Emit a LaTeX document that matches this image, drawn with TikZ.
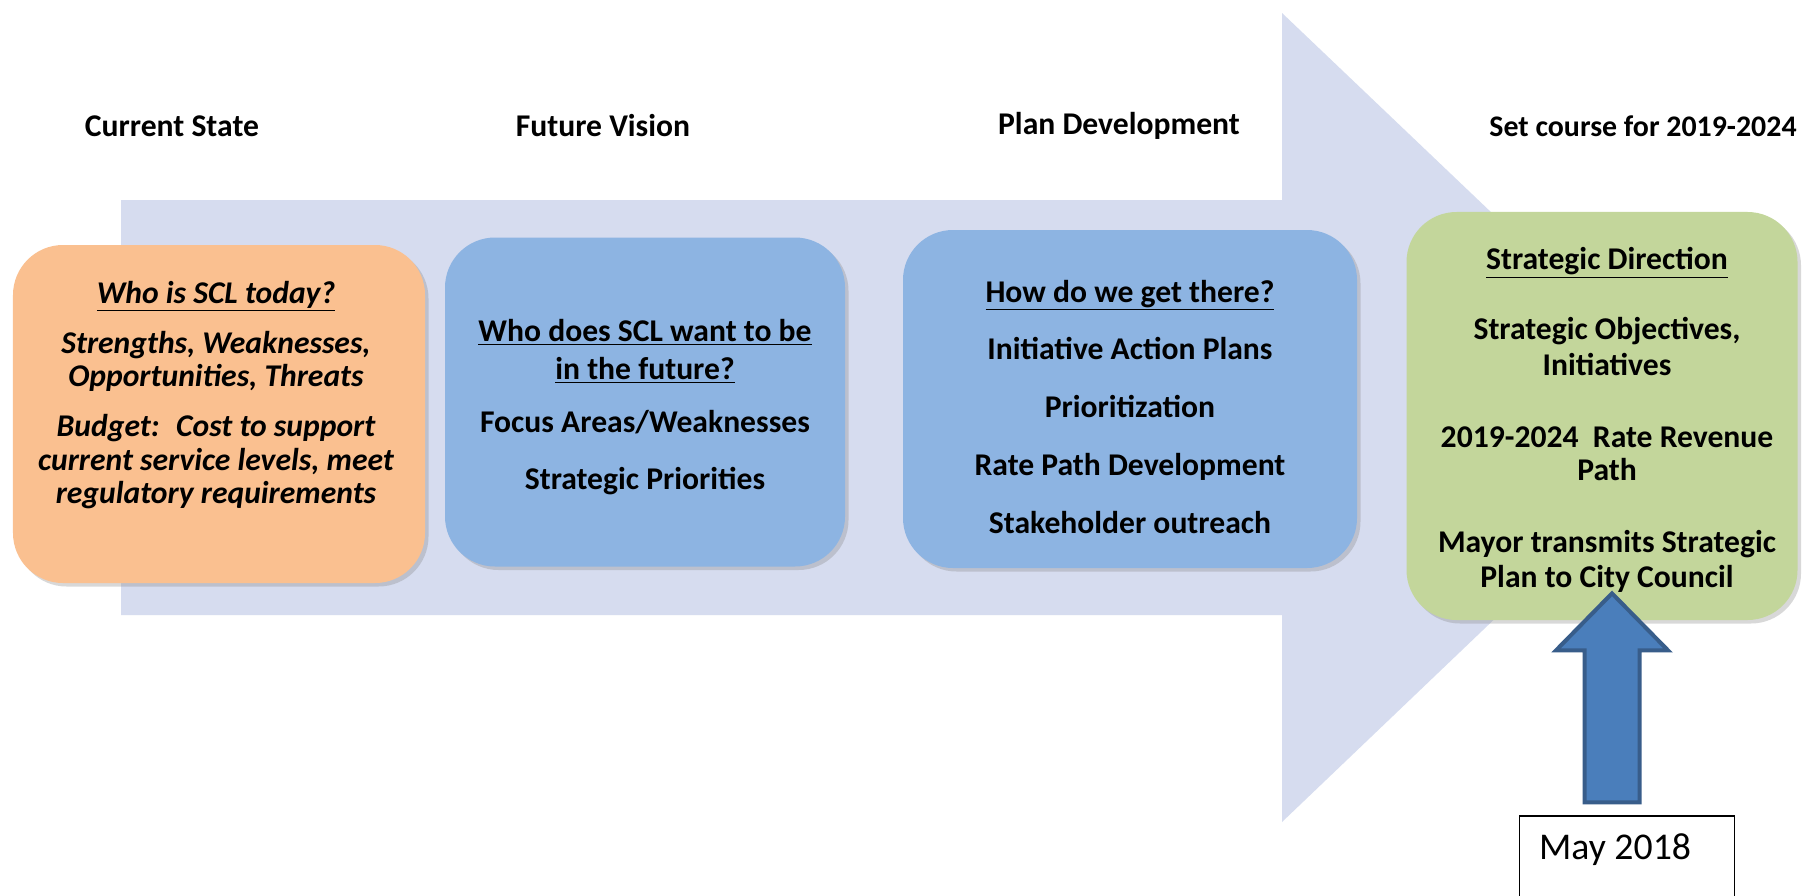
\documentclass[tikz,border=0pt]{standalone}
\usepackage{fontspec}
\setmainfont{Carlito}
\usetikzlibrary{positioning}
\usetikzlibrary{shadows, calc}

\definecolor{peach}{RGB}{250,192,144}
\definecolor{skyblue}{RGB}{141,180,226}
\definecolor{sage}{RGB}{195,214,155}
\definecolor{lavender}{RGB}{214,220,239}
\definecolor{steel}{RGB}{74,126,187}
\definecolor{steeldark}{RGB}{56,93,138}

\begin{document}
\begin{tikzpicture}[x=0.2mm,y=-0.2mm]
\tikzstyle{stage box}=[rectangle,rounded corners=10mm,inner sep=0,
  drop shadow={shadow xshift=0.7mm,shadow yshift=-0.7mm,opacity=0.3}]
\tikzstyle{stage text}=[align=center,inner sep=0,font=\fontsize{18}{19}\selectfont\bfseries]
\tikzstyle{stage title}=[inner sep=0,font=\fontsize{18}{19}\selectfont\bfseries]
\tikzset{
  up arrow/.style = {fill=steel, draw=steeldark, line width=0.8mm, line join=miter},
  date box/.style = {rectangle, draw=black, line width=0.3mm, fill=white,
    minimum width=43mm, minimum height=24mm}
}

    \useasboundingbox (0,0) rectangle (1802,896);
    \fill[white] (0,0) rectangle (1802,896);

    % the long timeline arrow behind the stages
    \fill[lavender] (121,200) -- (1282,200) -- (1282,13) -- (1706,417)
        -- (1282,822) -- (1282,615) -- (121,615) -- cycle;

    %%%%%%%%%%%%%%%%%%%%%%%%%%
    \node[stage title] (t1) at (172,126) {Current State};
    \node[stage title] (t2) at (603,126) {Future Vision};
    \node[stage title] (t3) at (1119,126) {Plan Development};
    \node[stage title,anchor=east,font=\fontsize{17}{19}\selectfont\bfseries] (t4) at (1797,126) {Set course for 2019-2024};

    \node[stage box,fill=peach,minimum width=82.4mm,minimum height=67.6mm] (now) at (219,414) {};
    \node[stage box,fill=skyblue,minimum width=80mm,minimum height=65.8mm] (vision) at (645,402) {};
    \node[stage box,fill=skyblue,minimum width=90.8mm,minimum height=67.6mm] (plan) at (1130,399) {};
    \node[stage box,fill=sage,minimum width=78.2mm,minimum height=81.6mm] (course) at (1602,416) {};

    \node[stage text,font=\fontsize{18}{19}\selectfont\bfseries\itshape] (nowtxt) at (216,395)
        {\underline{Who is SCL today?}\\[9.5pt]
         Strengths, Weaknesses,\\ Opportunities, Threats\\[9.5pt]
         Budget:~ Cost to support\\ current service levels, meet\\ regulatory requirements};
    \node[stage text] (visiontxt) at (645,407)
        {\underline{Who does SCL want to be}\\[3pt] \underline{in the future?}\\[11pt]
         Focus Areas/Weaknesses\\[13.5pt] Strategic Priorities};
    \node[stage text] (plantxt) at (1130,407)
        {\underline{How do we get there?}\\[14pt] Initiative Action Plans\\[14pt]
         Prioritization\\[14pt] Rate Path Development\\[14pt] Stakeholder outreach};
    \node[stage text] (coursetxt) at (1607,420)
        {\underline{Strategic Direction}\\[21pt] Strategic Objectives,\\[1pt] Initiatives\\[22pt]
         2019-2024~ Rate Revenue\\ Path\\[22pt]
         Mayor transmits Strategic\\[1pt] Plan to City Council};

    %%%%%%%%%%%%%%%%%%%%%%%%%%
    \node[date box] (may) at (1627,876) {};
    \node[anchor=base west,inner sep=0,font=\fontsize{21.5}{23}\selectfont] (maytxt)
        at ($(may.north west)+(20,44)$) {May 2018};
    \coordinate (foot) at ($(may.north)+(-15,-13)$);
    \coordinate (tip) at (foot |- course.south) ;
    \coordinate (tip) at ($(tip)+(0,-27)$);
    \draw[up arrow] ($(foot)+(-27.5,0)$) -- ($(tip)+(-27.5,57)$) -- ($(tip)+(-56,57)$)
        -- (tip) -- ($(tip)+(56,57)$) -- ($(tip)+(27.5,57)$) -- ($(foot)+(27.5,0)$) -- cycle;
\end{tikzpicture}
\end{document}
